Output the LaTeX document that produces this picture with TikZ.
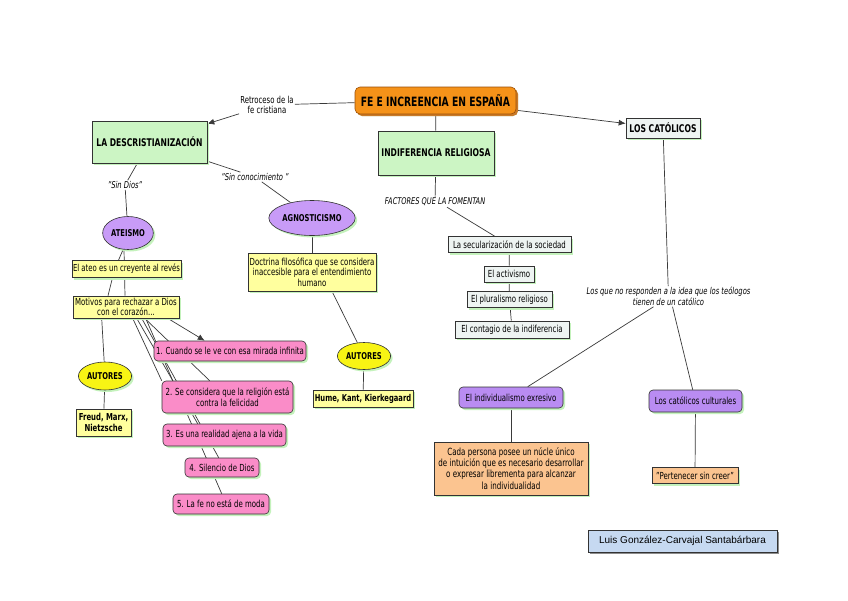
\documentclass[tikz,border=0pt]{standalone}
\usepackage{fontspec}
\setmainfont{DejaVu Sans}[FakeStretch=0.72]
\newfontfamily\authfont{Liberation Sans}
\usetikzlibrary{shapes.geometric,shadows,calc,arrows.meta}
\definecolor{linec}{HTML}{3A3A3A}
\definecolor{boxline}{HTML}{333333}
\definecolor{orangeT}{HTML}{F59219}
\definecolor{orangeL}{HTML}{9A4E08}
\definecolor{greenB}{HTML}{CCF5C4}
\definecolor{catB}{HTML}{EEF4F2}
\definecolor{purpleE}{HTML}{C89BF7}
\definecolor{purpleB}{HTML}{B98CF2}
\definecolor{yellowB}{HTML}{FFFF9E}
\definecolor{yellowE}{HTML}{F8F414}
\definecolor{pinkB}{HTML}{FA8CC8}
\definecolor{peachB}{HTML}{FBC490}
\definecolor{authB}{HTML}{C6D9F1}
\definecolor{shgreen}{HTML}{C4F2BC}
\definecolor{shbrown}{HTML}{C97A2A}
\pgfdeclarelayer{back}
\pgfdeclarelayer{bg}
\pgfsetlayers{back,bg,main}
\tikzset{
  box/.style={draw=boxline, line width=0.6pt, align=center, inner sep=1pt,
    font=\fontsize{9.7}{11}\selectfont,
    drop shadow={shadow xshift=2pt, shadow yshift=-2pt, fill=shgreen, opacity=1}},
  boldbox/.style={box, font=\fontsize{10.6}{12}\selectfont\bfseries},
  titlebox/.style={box, fill=orangeT, draw=orangeL, rounded corners=5pt,
    font=\fontsize{12.8}{14}\selectfont\bfseries,
    drop shadow={shadow xshift=2pt, shadow yshift=-2pt, fill=shbrown, opacity=1}},
  ell/.style={box, ellipse, font=\fontsize{9.4}{11}\selectfont\bfseries},
  lbl/.style={align=center, inner sep=1pt, font=\fontsize{9.6}{10.5}\selectfont},
  ilbl/.style={lbl, font=\fontsize{9.4}{10.5}\selectfont\itshape},
  conn/.style={draw=linec, line width=0.7pt},
  arr/.style={-{Latex[length=7pt,width=6pt]}},
  pinkbox/.style={box, fill=pinkB, rounded corners=4pt},
  purbox/.style={box, fill=purpleB, rounded corners=4pt},
  ybox/.style={box, fill=yellowB},
  gbox/.style={box, fill=catB},
}
\begin{document}
\begin{tikzpicture}[x=1pt,y=-1pt]
\begin{pgfonlayer}{back}
\fill[white] (0,0) rectangle (848,600);
\end{pgfonlayer}
\useasboundingbox (0,0) rectangle (848,600);

\node[titlebox, minimum width=161pt, minimum height=27pt] (title) at (435.5,100.5) {FE E INCREENCIA EN ESPAÑA};
\node[lbl] (retro) at (267,105) {Retroceso de la\\fe cristiana};
\node[boldbox, fill=greenB, minimum width=115pt, minimum height=42pt] (desc) at (149.5,142) {LA DESCRISTIANIZACIÓN};
\node[boldbox, fill=greenB, minimum width=116pt, minimum height=44pt] (indif) at (436,153) {INDIFERENCIA RELIGIOSA};
\node[boldbox, fill=catB, minimum width=74pt, minimum height=20pt] (catolicos) at (663,128) {LOS CATÓLICOS};

\node[ilbl] (sindios) at (125,185) {"Sin Dios"};
\node[ilbl] (sincon) at (255,177) {"Sin conocimiento "};

\node[ell, fill=purpleE, minimum width=50pt, minimum height=33pt] (ateismo) at (128,233) {ATEISMO};
\node[ell, fill=purpleE, minimum width=68pt, minimum height=35pt] (agnost) at (312,218) {AGNOSTICISMO};

\node[ybox, minimum width=109pt, minimum height=17pt, font=\fontsize{9.6}{11}\selectfont] (ateo) at (126.5,269) {El ateo es un creyente al revés};
\node[ybox, minimum width=106pt, minimum height=22pt, font=\fontsize{9.7}{10.5}\selectfont] (motivos) at (126,307) {Motivos para rechazar a Dios\\con el corazón...};
\node[ell, fill=yellowE, minimum width=46pt, minimum height=28pt] (autoresL) at (105,376) {AUTORES};
\node[ybox, minimum width=55pt, minimum height=27pt, font=\fontsize{9.6}{10.5}\selectfont\bfseries] (freud) at (103.5,422.5) {Freud, Marx,\\Nietzsche};

\node[pinkbox, minimum width=152pt, minimum height=20pt] (item1) at (230,351) {1. Cuando se le ve con esa mirada infinita};
\node[pinkbox, minimum width=131pt, minimum height=32pt] (item2) at (227.5,397) {2. Se considera que la religión está\\contra la felicidad};
\node[pinkbox, minimum width=123pt, minimum height=22pt] (item3) at (224.5,435) {3. Es una realidad ajena a la vida};
\node[pinkbox, minimum width=74pt, minimum height=19pt] (item4) at (222,467.5) {4. Silencio de Dios};
\node[pinkbox, minimum width=96pt, minimum height=20pt] (item5) at (221,504) {5. La fe no está de moda};

\node[ybox, minimum width=128pt, minimum height=38pt, font=\fontsize{9.7}{10.5}\selectfont] (doctrina) at (312,272) {Doctrina filosófica que se considera\\inaccesible para el entendimiento\\humano};
\node[ell, fill=yellowE, minimum width=45pt, minimum height=27pt] (autoresR) at (364,356) {AUTORES};
\node[ybox, minimum width=100pt, minimum height=17pt, font=\fontsize{9.4}{11}\selectfont\bfseries] (hume) at (363,398.5) {Hume, Kant, Kierkegaard};

\node[ilbl, font=\fontsize{9.2}{10}\selectfont\itshape] (factores) at (435,202) {FACTORES QUE LA FOMENTAN};
\node[gbox, minimum width=123pt, minimum height=16pt] (secular) at (509.5,244.5) {La secularización de la sociedad};
\node[gbox, minimum width=50pt, minimum height=16pt] (activismo) at (509,274) {El activismo};
\node[gbox, minimum width=85pt, minimum height=16pt] (pluralismo) at (509.5,299.5) {El pluralismo religioso};
\node[gbox, minimum width=114pt, minimum height=17pt] (contagio) at (512,329.5) {El contagio de la indiferencia};

\node[ilbl] (losque) at (668.5,296.5) {Los que no responden a la idea que los teólogos\\tienen de un católico};
\node[purbox, minimum width=104pt, minimum height=21pt] (individ) at (511,397.5) {El individualismo exresivo};
\node[purbox, minimum width=93pt, minimum height=22pt] (culturales) at (695.5,401) {Los católicos culturales};
\node[box, fill=peachB, minimum width=154pt, minimum height=53pt, font=\fontsize{9.9}{11.2}\selectfont] (cada) at (511,468.5) {Cada persona posee un núcle único\\de intuición que es necesario desarrollar\\o expresar librementa para alcanzar\\la individualidad};
\node[box, fill=peachB, minimum width=86pt, minimum height=16pt] (pertenecer) at (695,475.5) {"Pertenecer sin creer"};

\node[box, fill=authB, minimum width=189pt, minimum height=22pt, font=\authfont\fontsize{10}{11}\selectfont,
  drop shadow={shadow xshift=2pt, shadow yshift=-2pt, fill=black!45, opacity=1}] (author) at (682.5,541) {Luis González-Carvajal Santabárbara};

\begin{pgfonlayer}{bg}
\draw[conn] (title) -- (retro);
\draw[conn,arr] (retro) -- (desc);
\draw[conn,arr] (title) -- (catolicos);
\draw[conn] (title) -- (indif);
\draw[conn] (desc) -- (sindios);
\draw[conn] (sindios) -- (ateismo);
\draw[conn] (desc) -- (sincon);
\draw[conn] (sincon) -- (agnost);
\draw[conn] ($(ateismo.south)+(-5,0)$) -- ($(ateo.north)+(-8,0)$);
\draw[conn] ($(ateismo.south)+(-4,0)$) -- ($(motivos.north)+(-1,0)$);
\draw[conn] ($(ateo.south)+(-14,0)$) -- ($(motivos.north)+(-18,0)$);
\draw[conn] ($(motivos.south west)+(29,0)$) -- (autoresL);
\draw[conn] (autoresL) -- (freud);
\draw[conn] ($(motivos.south west)+(60,0)$) -- (item2.north west);
\draw[conn] ($(motivos.south west)+(72,0)$) -- ($(item2.north west)+(48,0)$);
\draw[conn] ($(motivos.south west)+(64,0)$) -- ($(item3.north west)+(35,0)$);
\draw[conn] ($(motivos.south west)+(69,0)$) -- ($(item4.north west)+(34,0)$);
\draw[conn] ($(motivos.south west)+(73,0)$) -- ($(item5.north west)+(49,0)$);
\draw[conn,arr] ($(motivos.south west)+(95,0)$) -- ($(item1.north west)+(51,0)$);
\draw[conn] (agnost) -- (doctrina);
\draw[conn] ($(doctrina.south)+(20,0)$) -- (autoresR);
\draw[conn] (autoresR) -- (hume);
\draw[conn] (indif) -- (factores);
\draw[conn] ($(factores.south)+(12,0)$) -- ($(secular.north west)+(47,0)$);
\draw[conn] (secular) -- (activismo);
\draw[conn] (activismo) -- (pluralismo);
\draw[conn] (pluralismo) -- (contagio);
\draw[conn] (catolicos) -- (losque);
\draw[conn] ($(losque.south)+(4,0)$) -- ($(culturales.north west)+(44,0)$);
\draw[conn] ($(losque.south)+(-15,0)$) -- ($(individ.north west)+(69,0)$);
\draw[conn] (individ) -- (cada);
\draw[conn] (culturales) -- (pertenecer);
\end{pgfonlayer}
\end{tikzpicture}
\end{document}
